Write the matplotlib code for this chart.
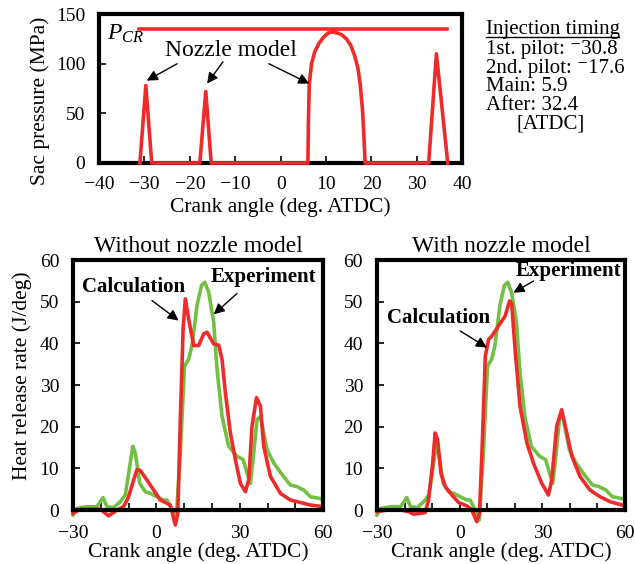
import numpy as np
import matplotlib
import matplotlib.pyplot as plt
from matplotlib.lines import Line2D

matplotlib.use("Agg")
plt.rcParams.update({
    "font.family": ["Liberation Serif", "DejaVu Serif"],
    "mathtext.fontset": "custom",
    "mathtext.rm": "Liberation Serif",
    "mathtext.it": "Liberation Serif:italic",
    "axes.unicode_minus": True,
})

RED = "#ee2a2a"
GREEN = "#72c043"

# sac pressure (nozzle model)
sac_angle = [-31.0, -29.7, -28.4, -17.8, -16.5, -15.3,
             6.0, 6.1, 6.3, 6.8, 7.5, 8.5, 9.5, 10.5, 11.5, 12.5, 13.5,
             14.5, 15.5, 16.3, 17.0, 17.5, 18.0, 18.3, 18.6,
             32.6, 34.3, 36.8]
sac_p = [0, 78, 0, 0, 72, 0,
         0, 40, 80, 100, 112, 121, 127, 131, 132, 131, 129,
         125, 118, 108, 96, 80, 55, 30, 0,
         0, 110, 0]
pcr_angle = [-31.2, 36.7]
pcr_p = [135, 135]

# heat release rate, experiment
exp_angle = [-30, -28.6, -25, -21.4, -19.2, -17.8, -15.4, -13, -11.2, -9.6,
             -8.5, -7.6, -6, -4, -2.2, 0.2, 2.6, 3.8, 5.6, 7.1, 8.6, 10.1,
             11.6, 12.8, 14.6, 16.2, 17.4, 18.8, 20.6, 21.8, 23.6, 26, 29,
             31.2, 32.6, 33.8, 35, 36.2, 37.4, 39.8, 42.2, 45.2, 48.2, 50.6,
             53, 55.4, 60]
exp_hrr = [-1.2, 0.4, 0.8, 0.8, 3.0, 0.8, 0.6, 2, 3.6, 10.5,
           15.3, 13.7, 6.4, 4.4, 4.0, 3.2, 2.4, 2.4, 0, -2.4, 13.7, 34.6,
           36.2, 39.5, 49.1, 53.9, 54.7, 52.3, 45.1, 33.8, 22.5, 15.3, 12.9,
           12.1, 8.9, 6.4, 13.7, 21.7, 22.5, 14.5, 11.3, 8.5, 6, 5.6,
           4.8, 3.2, 2.6]

# calculation without nozzle model
calc0_angle = [-30, -27.4, -20.2, -17.2, -14.2, -11.8, -10, -8.2, -7, -5.8,
               -3.4, -1, 1.4, 3.8, 5, 6.8, 7.7, 8.6, 9.6, 10.4, 11.6, 13.4,
               15.2, 17, 18.2, 20.6, 22.4, 23.6, 24.8, 26.6, 28.4, 30.2, 32,
               33.2, 34.4, 36, 37.4, 38.6, 41, 44.6, 48.2, 51.8, 55.4, 60]
calc0_hrr = [-0.8, 0.2, 0.2, -1.4, 0, 0.8, 3.2, 7.2, 9.7, 9.5,
             7.2, 4.8, 2.4, 1.6, 1.2, -3.6, -0.8, 21.7, 43.5, 50.7, 45.9, 39.5,
             39.5, 42.3, 42.7, 39.9, 39.6, 36.2, 28.2, 18.5, 12.1, 6.4, 4.4,
             7.2, 20.1, 27, 25, 15.3, 8.1, 4, 2.4, 1.8, 1.2, 0.8]

# calculation with nozzle model
calc1_angle = [-30, -26.4, -21.5, -18.5, -16.7, -14.3, -12.5, -11.3, -9.8, -8.9,
               -8, -6.8, -5.2, -2.8, -0.4, 2.6, 4.4, 6.2, 7.2, 8.3, 9.3, 10.5,
               11.7, 14.1, 16.5, 18.1, 18.9, 20.1, 21.9, 24.4, 26.8, 29.8, 32.2,
               33.4, 35.2, 37, 38.6, 40.7, 43.7, 47.3, 50.9, 54.6, 60]
calc1_hrr = [-0.4, 0, 0, -0.4, -1, -0.8, -0.6, 2.4, 11.2, 18.5,
             16.9, 8.8, 5.6, 3.6, 1.8, 1, 0, -2.8, -0.8, 17.7, 36.9, 41,
             41.8, 44.2, 46.6, 50.2, 49.4, 38.6, 24.9, 16.1, 11.2, 6.4, 3.6,
             7.2, 20.1, 24.1, 19.3, 12.9, 8, 4.8, 3.2, 2, 1]

timing_lines = ["1st. pilot: \u207b30.8", "2nd. pilot: \u207b17.6",
                "Main: 5.9", "After: 32.4"]

TICK = 14
LAB = 15.5
BIG = 17
NOTE = 15
arrow = dict(arrowstyle="-|>", color="k", lw=1, mutation_scale=16,
             shrinkA=0, shrinkB=0)

fig = plt.figure(figsize=(6.35, 5.64), dpi=100)


def style(ax, xpad):
    for s in ax.spines.values():
        s.set_linewidth(3)
    ax.tick_params(direction="in", length=5, width=1.2, labelsize=TICK)
    ax.tick_params(axis="y", pad=10)
    ax.tick_params(axis="x", pad=xpad)


# top panel
ax0 = fig.add_axes([0.156, 0.711, 0.572, 0.264])
ax0.plot(pcr_angle, pcr_p, color=RED, lw=2.6, clip_on=False)
ax0.plot(sac_angle, sac_p, color=RED, lw=2.6, clip_on=False, zorder=3)
ax0.set_xlim(-40, 40)
ax0.set_ylim(0, 150)
ax0.set_xticks(np.arange(-40, 41, 10))
ax0.set_yticks([0, 50, 100, 150])
style(ax0, 9.5)
ax0.set_xlabel("Crank angle (deg. ATDC)", fontsize=LAB, va="center")
ax0.xaxis.set_label_coords(0.5, -0.295)
ax0.set_ylabel("Sac pressure (MPa)", fontsize=LAB, va="center")
ax0.yaxis.set_label_coords(-0.163, 0.416)
ax0.text(-38.3, 130, "$P_{CR}$", fontsize=BIG, va="center")
ax0.text(-11, 113, "Nozzle model", fontsize=BIG, ha="center", va="center")
ax0.annotate("", xy=(-29.5, 83), xytext=(-22.8, 100), arrowprops=arrow)
ax0.annotate("", xy=(-16.2, 80), xytext=(-12.7, 102), arrowprops=arrow)
ax0.annotate("", xy=(6.3, 80), xytext=(-2.6, 100), arrowprops=arrow)

# injection timing text
W, H = 635, 564
fig.text(486 / W, 1 - 34 / H, "Injection timing", fontsize=NOTE, va="baseline")
fig.add_artist(Line2D([486 / W, 619 / W], [1 - 37 / H, 1 - 37 / H],
                      color="k", lw=1))
for i, s in enumerate(timing_lines):
    fig.text(486 / W, 1 - (54 + 18.5 * i) / H, s, fontsize=NOTE, va="baseline")
fig.text(517 / W, 1 - 128 / H, "[ATDC]", fontsize=NOTE, va="baseline")

# bottom panels
panels = [
    ([0.115, 0.0957, 0.394, 0.443], calc0_angle, calc0_hrr,
     "Without nozzle model",
     ((-8.2, 53.5), (-1.6, 50.3), (8.0, 45.5)),
     ((38.6, 56.0), (29.0, 52.0), (20.6, 47.0))),
    ([0.5937, 0.0957, 0.3906, 0.443], calc1_angle, calc1_hrr,
     "With nozzle model",
     ((-7.7, 46.2), (0.2, 43.0), (9.9, 39.0)),
     ((39.3, 57.4), (26.8, 55.0), (19.5, 52.2))),
]
for i, (rect, ca, ch, title, calc_ann, exp_ann) in enumerate(panels):
    ax = fig.add_axes(rect)
    ax.plot(exp_angle, exp_hrr, color=GREEN, lw=2.6, clip_on=False)
    ax.plot(ca, ch, color=RED, lw=2.6, clip_on=False)
    ax.set_xlim(-30, 60)
    ax.set_ylim(0, 60)
    ax.set_xticks([-30, 0, 30, 60])
    ax.set_xticks(np.arange(-20, 60, 10), minor=True)
    ax.set_yticks(np.arange(0, 61, 10))
    style(ax, 10.5)
    ax.tick_params(which="minor", direction="in", length=5, width=1.2)
    ax.set_title(title, fontsize=BIG, pad=6)
    ax.set_xlabel("Crank angle (deg. ATDC)", fontsize=LAB, va="center")
    ax.xaxis.set_label_coords(0.5, -0.17)
    if i == 0:
        ax.set_ylabel("Heat release rate (J/deg)", fontsize=LAB, va="center")
        ax.yaxis.set_label_coords(-0.204, 0.538)
    ax.text(*calc_ann[0], "Calculation", fontsize=NOTE, fontweight="bold",
            ha="center", va="center")
    ax.annotate("", xy=calc_ann[2], xytext=calc_ann[1], arrowprops=arrow)
    ax.text(*exp_ann[0], "Experiment", fontsize=NOTE, fontweight="bold",
            ha="center", va="center")
    ax.annotate("", xy=exp_ann[2], xytext=exp_ann[1], arrowprops=arrow)

fig.savefig("out.png", dpi=100)
